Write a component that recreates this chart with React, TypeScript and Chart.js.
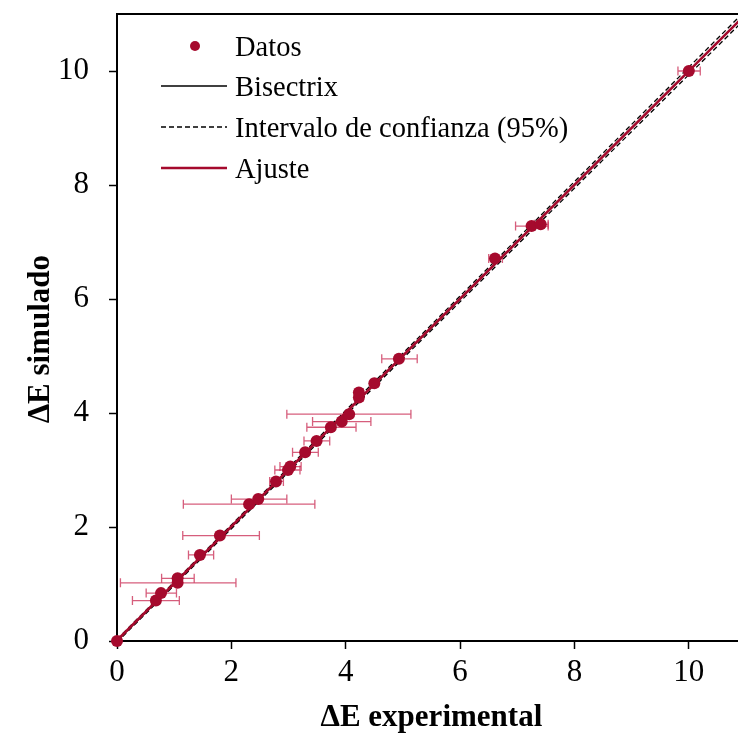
import React, { useEffect, useRef } from "react";
import { Chart, registerables } from "chart.js";

Chart.register(...registerables);

// Data points: ΔE experimental (x), ΔE simulado (y), horizontal error bar limits
const expX = [0, 0.68, 0.77, 1.06, 1.06, 1.45, 1.8, 2.31, 2.47, 2.78, 2.99, 3.03, 3.29, 3.49, 3.74, 3.93, 4.06, 4.23, 4.23, 4.5, 4.93, 6.61, 7.25, 7.41, 10.0];
const simY = [0, 0.71, 0.84, 1.02, 1.1, 1.51, 1.85, 2.4, 2.49, 2.8, 3.0, 3.06, 3.31, 3.51, 3.75, 3.85, 3.98, 4.27, 4.36, 4.52, 4.95, 6.71, 7.28, 7.31, 10.0];
const errLo = [0, 0.27, 0.51, 0.06, 0.78, 1.25, 1.15, 1.16, 2.0, 2.67, 2.76, 2.85, 3.07, 3.27, 3.32, 3.42, 2.97, 4.18, 4.18, 4.45, 4.63, 6.5, 6.97, 7.3, 9.81];
const errHi = [0, 1.09, 1.04, 2.08, 1.35, 1.69, 2.49, 3.46, 2.97, 2.91, 3.2, 3.22, 3.52, 3.72, 4.18, 4.44, 5.14, 4.3, 4.3, 4.56, 5.25, 6.74, 7.54, 7.54, 10.2];

// Lines
const lineX = [0, 11];
const bisectrixY = [0, 11];
const ajusteY = [0.01, 11.0];
const ciLowY = [-0.02, 10.93];
const ciHighY = [0.03, 11.07];

// Ticks
const xTicks = [0, 2, 4, 6, 8, 10];
const yTicks = [0, 2, 4, 6, 8, 10];

const legendLabels = ["Datos", "Bisectrix", "Intervalo de confianza (95%)", "Ajuste"];

const RED = "#a50a2d";
const ERR = "rgba(200,40,80,0.75)";
const FONT = "'Liberation Serif', 'Times New Roman', serif";

const errorBarPlugin = {
  id: "errorBars",
  beforeDatasetsDraw(chart: any) {
    const { ctx, scales } = chart;
    const xs = scales.x;
    const ys = scales.y;
    ctx.save();
    ctx.strokeStyle = ERR;
    ctx.lineWidth = 1.3;
    for (let i = 0; i < expX.length; i++) {
      if (errHi[i] - errLo[i] <= 0) continue;
      const y = ys.getPixelForValue(simY[i]);
      const x0 = xs.getPixelForValue(errLo[i]);
      const x1 = xs.getPixelForValue(errHi[i]);
      ctx.beginPath();
      ctx.moveTo(x0, y);
      ctx.lineTo(x1, y);
      ctx.moveTo(x0, y - 4.5);
      ctx.lineTo(x0, y + 4.5);
      ctx.moveTo(x1, y - 4.5);
      ctx.lineTo(x1, y + 4.5);
      ctx.stroke();
    }
    ctx.restore();
  },
};

const framePlugin = {
  id: "frameAndLegend",
  afterDraw(chart: any) {
    const { ctx, chartArea } = chart;
    const { left, top, right } = chartArea;
    ctx.save();
    // top border
    ctx.strokeStyle = "#000";
    ctx.lineWidth = 2;
    ctx.beginPath();
    ctx.moveTo(left - 1, top);
    ctx.lineTo(right, top);
    ctx.stroke();

    // legend
    const rows = [top + 32, top + 72, top + 113, top + 154];
    const lx0 = left + 44;
    const lx1 = left + 110;
    const tx = left + 118;
    ctx.font = `28.5px ${FONT}`;
    ctx.textBaseline = "alphabetic";
    ctx.textAlign = "left";

    // Datos
    ctx.fillStyle = RED;
    ctx.beginPath();
    ctx.arc(left + 78, rows[0], 5, 0, Math.PI * 2);
    ctx.fill();

    // Bisectrix
    ctx.strokeStyle = "#000";
    ctx.lineWidth = 1.3;
    ctx.beginPath();
    ctx.moveTo(lx0, rows[1]);
    ctx.lineTo(lx1, rows[1]);
    ctx.stroke();

    // Intervalo
    ctx.setLineDash([5, 3]);
    ctx.beginPath();
    ctx.moveTo(lx0, rows[2]);
    ctx.lineTo(lx1, rows[2]);
    ctx.stroke();
    ctx.setLineDash([]);

    // Ajuste
    ctx.strokeStyle = RED;
    ctx.lineWidth = 2.5;
    ctx.beginPath();
    ctx.moveTo(lx0, rows[3]);
    ctx.lineTo(lx1, rows[3]);
    ctx.stroke();

    ctx.fillStyle = "#000";
    legendLabels.forEach((t, i) => ctx.fillText(t, tx, rows[i] + 9.5));
    ctx.restore();
  },
};

export default function App() {
  const ref = useRef<HTMLCanvasElement | null>(null);

  useEffect(() => {
    if (!ref.current) return;
    const pts = expX.map((x, i) => ({ x, y: simY[i] }));
    const mk = (ys: number[]) => lineX.map((x, i) => ({ x, y: ys[i] }));
    const chart = new Chart(ref.current, {
      type: "scatter",
      data: {
        datasets: [
          {
            label: legendLabels[0],
            data: pts,
            backgroundColor: RED,
            borderColor: RED,
            pointRadius: 6,
            pointBorderWidth: 0,
            showLine: false,
            clip: false as any,
          },
          {
            label: legendLabels[3],
            data: mk(ajusteY),
            showLine: true,
            borderColor: RED,
            borderWidth: 2.6,
            pointRadius: 0,
          },
          {
            label: legendLabels[2],
            data: mk(ciHighY),
            showLine: true,
            borderColor: "#000",
            borderWidth: 1.3,
            borderDash: [5, 3],
            pointRadius: 0,
          },
          {
            label: legendLabels[2],
            data: mk(ciLowY),
            showLine: true,
            borderColor: "#000",
            borderWidth: 1.3,
            borderDash: [5, 3],
            pointRadius: 0,
          },
          {
            label: legendLabels[1],
            data: mk(bisectrixY),
            showLine: true,
            borderColor: "#000",
            borderWidth: 1.3,
            pointRadius: 0,
          },
        ],
      },
      options: {
        responsive: false,
        animation: false,
        devicePixelRatio: 1,
        layout: { autoPadding: false, padding: { top: 14, right: 0, left: 0, bottom: 0 } },
        plugins: {
          legend: { display: false },
          tooltip: { enabled: false },
        },
        scales: {
          x: {
            type: "linear",
            min: 0,
            max: 10.86,
            afterBuildTicks: (s: any) => {
              s.ticks = xTicks.map((v) => ({ value: v }));
            },
            afterFit: (s: any) => {
              s.height = 92;
              s.paddingLeft = 0;
              s.paddingRight = 0;
            },
            ticks: {
              color: "#000",
              font: { family: FONT, size: 31 },
              padding: 5,
              maxRotation: 0,
            },
            grid: {
              drawOnChartArea: false,
              drawTicks: true,
              tickLength: 8,
              tickColor: "#000",
              tickWidth: 1.5,
            },
            border: { display: true, color: "#000", width: 2 },
            title: {
              display: true,
              text: " ΔE experimental",
              color: "#000",
              font: { family: FONT, size: 31, weight: "bold" },
              padding: { top: 0, bottom: -4 },
            },
          },
          y: {
            type: "linear",
            min: 0,
            max: 11.0,
            afterBuildTicks: (s: any) => {
              s.ticks = yTicks.map((v) => ({ value: v }));
            },
            afterFit: (s: any) => {
              s.width = 117;
              s.paddingTop = 0;
              s.paddingBottom = 0;
            },
            ticks: {
              color: "#000",
              font: { family: FONT, size: 31 },
              padding: 20,
            },
            grid: {
              drawOnChartArea: false,
              drawTicks: true,
              tickLength: 8,
              tickColor: "#000",
              tickWidth: 1.5,
            },
            border: { display: true, color: "#000", width: 2 },
            title: {
              display: true,
              text: "ΔE simulado   ",
              color: "#000",
              font: { family: FONT, size: 31, weight: "bold" },
              padding: { top: 22, bottom: 0 },
            },
          },
        },
      },
      plugins: [errorBarPlugin, framePlugin],
    });
    return () => chart.destroy();
  }, []);

  return (
    <div style={{ position: "fixed", left: 0, top: 0, width: 738, height: 733, background: "#fff" }}>
      <canvas ref={ref} width={738} height={733} style={{ display: "block" }} />
    </div>
  );
}
